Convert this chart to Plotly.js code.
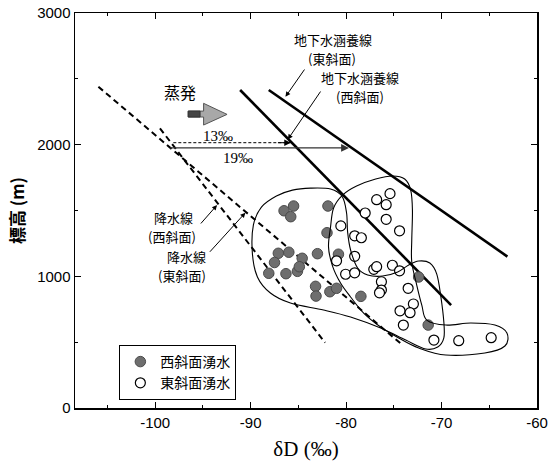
<!DOCTYPE html>
<html>
<head>
<meta charset="utf-8">
<script src="https://cdn.plot.ly/plotly-3.0.1.min.js"></script>
<style>html,body{margin:0;padding:0;background:#fff;}#chart{width:560px;height:471px;}</style>
</head>
<body>
<div id="chart"></div>
<script>
// ---- data ----
// West-slope springs (filled)
const westSpringD = [-86.5,-85.5,-85.8,-81.9,-82.0,-83.0,-80.8,-87.1,-86.0,-84.6,-87.5,-88.1,-86.3,-85.1,-84.9,-83.2,-83.15,-81.7,-81.0,-78.45,-72.4,-71.4];
const westSpringH = [1498,1534,1453,1534,1331,1172,1168,1175,1183,1137,1105,1023,1020,1038,1073,924,850,883,909,848,995,630];
// East-slope springs (open)
const eastSpringD = [-75.4,-76.8,-75.8,-78.0,-75.8,-74.4,-80.55,-79.1,-78.4,-79.1,-81.0,-80.05,-79.1,-77.1,-76.8,-75.15,-74.4,-76.3,-76.3,-76.5,-73.5,-72.95,-74.35,-73.3,-74.0,-70.8,-68.2,-64.8];
const eastSpringH = [1628,1582,1544,1481,1433,1346,1383,1308,1293,1152,1118,1016,1027,1053,1073,1084,1042,959,896,875,909,790,738,724,630,516,511,534];
// Groundwater recharge lines
const rechargeWestD = [-91.1,-69.0];
const rechargeWestH = [2415,782];
const rechargeEastD = [-88.1,-63.1];
const rechargeEastH = [2415,1150];
// Precipitation lines
const precipWestD = [-99.5,-82.2];
const precipWestH = [2124,496];
const precipEastD = [-105.95,-74.3];
const precipEastH = [2440,491];
// Evaporation shift arrows (13 permil dashed, 19 permil solid)
const shift13D = [-98.1,-85.8];
const shift13H = [2015,2015];
const shift19D = [-98.6,-79.7];
const shift19H = [1975,1975];
// Group outlines
const westOutlineD = [-83.73,-81.63,-80.4,-79.95,-79.84,-79.53,-78.79,-77.74,-76.17,-74.59,-73.44,-72.39,-71.23,-70.5,-70.08,-69.76,-69.76,-70.4,-71.65,-73.75,-76.38,-79.53,-82.36,-85.83,-87.93,-89.29,-89.82,-89.71,-88.87,-87.3,-85.62];
const westOutlineH = [1670,1663,1604,1481,1336,1200,1063,1010,1002,1033,1086,1116,1101,1017,850,653,532,463,448,516,607,691,744,797,873,995,1177,1390,1526,1610,1655];
const eastOutlineD = [-81.63,-81.31,-80.37,-78.9,-76.9,-75.12,-73.86,-73.23,-73.05,-73.12,-73.12,-72.6,-72.07,-71.55,-69.55,-66.93,-64.41,-63.15,-63.36,-65.46,-69.55,-72.39,-74.49,-76.38,-78.16,-79.53,-80.58,-81.42,-81.84];
const eastOutlineH = [1374,1519,1617,1686,1739,1762,1739,1655,1503,1276,1109,934,782,668,630,645,630,569,471,418,402,456,532,615,721,843,949,1078,1222];
// Tick labels
const xTicks = [-100,-90,-80,-70,-60];
const xMinor = [-105,-95,-85,-75,-65];
const yTicks = [0,1000,2000,3000];
const yMinor = [500,1500,2500];

const CJK = '"Noto Sans CJK JP", "Noto Sans", sans-serif';
const SANS = '"Liberation Sans", Arial, sans-serif';
const SERIF = '"Liberation Serif", "Times New Roman", serif';

function closedSplinePath(xs, ys) {
  const n = xs.length;
  const p = i => [xs[(i + n) % n], ys[(i + n) % n]];
  let d = 'M ' + xs[0] + ',' + ys[0];
  for (let i = 0; i < n; i++) {
    const p0 = p(i - 1), p1 = p(i), p2 = p(i + 1), p3 = p(i + 2);
    const c1 = [p1[0] + (p2[0] - p0[0]) / 6, p1[1] + (p2[1] - p0[1]) / 6];
    const c2 = [p2[0] - (p3[0] - p1[0]) / 6, p2[1] - (p3[1] - p1[1]) / 6];
    d += ' C ' + c1[0] + ',' + c1[1] + ' ' + c2[0] + ',' + c2[1] + ' ' + p2[0] + ',' + p2[1];
  }
  return d + ' Z';
}

const lineTrace = (x, y, w, dash) => ({
  x, y, type: 'scatter', mode: 'lines', showlegend: false, hoverinfo: 'skip',
  line: {color: '#000', width: w, dash: dash || 'solid'}
});

const traces = [
  lineTrace(rechargeWestD, rechargeWestH, 2.6),
  lineTrace(rechargeEastD, rechargeEastH, 2.6),
  lineTrace(precipWestD, precipWestH, 2, '6px,4px'),
  lineTrace(precipEastD, precipEastH, 2, '6px,4px'),
  lineTrace(shift13D, shift13H, 1, '3px,2px'),
  {
    x: westSpringD, y: westSpringH, type: 'scatter', mode: 'markers', name: '西斜面湧水',
    marker: {size: 10.5, color: '#6e6e6e', line: {color: '#4a4a4a', width: 1}}
  },
  {
    x: eastSpringD, y: eastSpringH, type: 'scatter', mode: 'markers', name: '東斜面湧水',
    marker: {size: 10, color: '#fff', line: {color: '#000', width: 1.2}}
  }
];

// evaporation block arrow geometry
const ev = {x0: -96.54, xb: -94.93, xt: -92.47, yb1: 2255, yb2: 2210, yh1: 2314, yh2: 2149, ym: 2230, xs: -95.3};

const shapes = [
  {type: 'path', xref: 'x', yref: 'y', path: closedSplinePath(westOutlineD, westOutlineH), line: {color: '#000', width: 1.1}},
  {type: 'path', xref: 'x', yref: 'y', path: closedSplinePath(eastOutlineD, eastOutlineH), line: {color: '#000', width: 1.1}},
  {type: 'path', xref: 'x', yref: 'y',
   path: `M ${ev.x0},${ev.yb1} L ${ev.xb},${ev.yb1} L ${ev.xb},${ev.yh1} L ${ev.xt},${ev.ym} L ${ev.xb},${ev.yh2} L ${ev.xb},${ev.yb2} L ${ev.x0},${ev.yb2} Z`,
   fillcolor: '#a8a8a8', line: {color: '#555', width: 1}},
  {type: 'rect', xref: 'x', yref: 'y', x0: ev.x0, x1: ev.xs, y0: ev.yb2, y1: ev.yb1, fillcolor: '#444', line: {color: '#333', width: 1}}
];

const txt = (text, x, y, size, family) => ({
  text, x, y, xref: 'x', yref: 'y', showarrow: false, align: 'center', borderpad: 0,
  font: {family: family || CJK, size: size || 13, color: '#000'}
});
const ptr = (x, y, ax, ay) => ({
  text: '', x, y, ax, ay, xref: 'x', yref: 'y', axref: 'x', ayref: 'y',
  showarrow: true, arrowhead: 2, arrowsize: 1, arrowwidth: 1, arrowcolor: '#000'
});

const annotations = [
  txt('地下水涵養線', -81.4, 2802),
  txt('(東斜面)', -81.45, 2658),
  txt('地下水涵養線', -78.55, 2513),
  txt('(西斜面)', -78.5, 2369),
  ptr(-86.35, 2364, -84.25, 2582),
  ptr(-86.1, 2040, -82.57, 2415),
  txt('蒸発', -97.4, 2402, 16),
  txt('13‰', -93.4, 2069, 15, SERIF),
  txt('19‰', -91.3, 1902, 15, SERIF),
  {text: '', x: shift13D[1], y: shift13H[1], ax: shift13D[1] - 1.5, ay: shift13H[1], xref: 'x', yref: 'y', axref: 'x', ayref: 'y',
   showarrow: true, arrowhead: 2, arrowsize: 1.3, arrowwidth: 1, arrowcolor: '#000'},
  {text: '', x: shift19D[1], y: shift19H[1], ax: shift19D[0], ay: shift19H[0], xref: 'x', yref: 'y', axref: 'x', ayref: 'y',
   showarrow: true, arrowhead: 2, arrowsize: 1.3, arrowwidth: 1.2, arrowcolor: '#333'},
  txt('降水線', -98.1, 1446),
  txt('(西斜面)', -98.25, 1302),
  txt('降水線', -96.7, 1154),
  txt('(東斜面)', -97.2, 1010),
  ptr(-93.52, 1541, -95.35, 1390),
  ptr(-90.55, 1483, -94.41, 1175)
];

const axisCommon = {
  showgrid: false, zeroline: false, showline: true, linecolor: '#000', linewidth: 1.5,
  mirror: 'ticks', ticks: 'inside', ticklen: 6, tickwidth: 1, tickcolor: '#000',
  tickfont: {family: SANS, size: 15, color: '#000'}
};

const layout = {
  width: 560, height: 471,
  margin: {l: 75, r: 23, t: 13, b: 63},
  paper_bgcolor: '#fff', plot_bgcolor: '#fff',
  xaxis: Object.assign({}, axisCommon, {
    range: [-108.4, -60], tickmode: 'array', tickvals: xTicks, ticktext: xTicks.map(String),
    minor: {tickmode: 'array', tickvals: xMinor, ticks: 'inside', ticklen: 3, tickcolor: '#000'},
    title: {text: 'δD (‰)', font: {family: SERIF, size: 21, color: '#000'}, standoff: 12}
  }),
  yaxis: Object.assign({}, axisCommon, {
    range: [0, 3000], tickmode: 'array', tickvals: yTicks, ticktext: yTicks.map(String),
    minor: {tickmode: 'array', tickvals: yMinor, ticks: 'inside', ticklen: 3, tickcolor: '#000'},
    title: {text: '標高 (m)', font: {family: CJK, size: 17, color: '#000', weight: 'bold'}, standoff: 8}
  }),
  legend: {
    x: 0.096, y: 0.1595, xanchor: 'left', yanchor: 'top',
    bgcolor: '#fff', bordercolor: '#000', borderwidth: 1,
    font: {family: CJK, size: 14, color: '#000'}, tracegroupgap: 0
  },
  shapes, annotations
};

Plotly.newPlot('chart', traces, layout, {staticPlot: true, displayModeBar: false});
</script>
</body>
</html>
